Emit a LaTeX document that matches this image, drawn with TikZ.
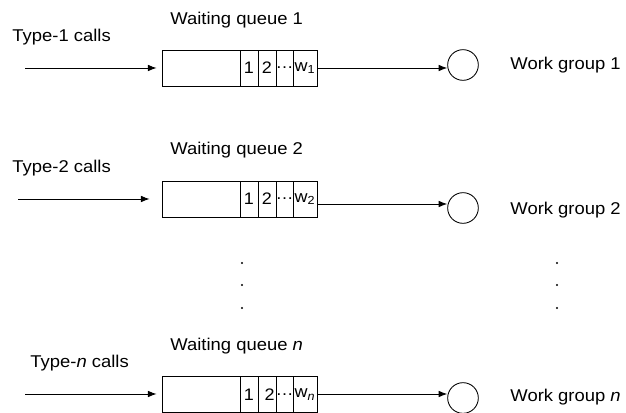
\documentclass[tikz,border=0pt]{standalone}
\usepackage{fontspec}
\setmainfont{Liberation Sans}[FakeStretch=1.08]
\usetikzlibrary{arrows.meta}
\newcommand{\celldots}{\makebox[0pt]{\ldots}}
\begin{document}
\begin{tikzpicture}[x=0.75pt,y=-0.75pt,line width=0.65pt,
  lbl/.style={anchor=west,inner sep=0pt,font=\fontsize{12.8}{15}\selectfont},
  queue/.style={draw,minimum width=116.25pt,minimum height=27pt,inner sep=0pt},
  cell/.style={draw,minimum height=27pt,inner sep=0pt,font=\fontsize{12.5}{14}\selectfont},
  srv/.style={draw,circle,minimum size=23pt,inner sep=0pt},
  arr/.style={-{Latex[length=6.5pt,width=5pt]}},
  dot/.style={fill=black,circle,inner sep=0pt,minimum size=1.6pt}
]
\useasboundingbox (0,0) rectangle (626,413);
% ---------- row 1
\node[lbl] (t1) at (12,37) {Type-1 calls};
\node[lbl] (wq1) at (170,20) {Waiting queue 1};
\node[lbl] (wg1) at (510,65) {Work group 1};
\node[queue] (q1) at (239.5,68) {};
\node[cell,minimum width=13.5pt] (a1) at (249,68) {1};
\node[cell,minimum width=13.5pt] (b1) at (267,68) {2};
\node[cell,minimum width=12.75pt] (d1) at (284.5,68) {\celldots};
\node[cell,minimum width=18pt] (w1) at (305,68) {w\textsubscript{1}};
\node[srv] (c1) at (463,65) {};
\coordinate (s1) at (25,68);
\coordinate (o1) at (317,68);
\draw[arr] (s1) -- ([xshift=-3.75pt]s1 -| q1.west);
\draw[arr] (o1) -- (o1 -| c1.west);
% ---------- row 2
\node[lbl] (t2) at (12,168) {Type-2 calls};
\node[lbl] (wq2) at (170,150) {Waiting queue 2};
\node[lbl] (wg2) at (510,210) {Work group 2};
\node[queue] (q2) at (239.5,199) {};
\node[cell,minimum width=13.5pt] (a2) at (249,199) {1};
\node[cell,minimum width=13.5pt] (b2) at (267,199) {2};
\node[cell,minimum width=12.75pt] (d2) at (284.5,199) {\celldots};
\node[cell,minimum width=18pt] (w2) at (305,199) {w\textsubscript{2}};
\node[srv] (c2) at (463,208) {};
\coordinate (s2) at (18,199);
\coordinate (o2) at (317,204);
\draw[arr] (s2) -- ([xshift=-9pt]s2 -| q2.west);
\draw[arr] (o2) -- (o2 -| c2.west);
% ---------- dots
\node[dot] (l1) at (242,263) {};
\node[dot] (l2) at (242,285) {};
\node[dot] (l3) at (242,308) {};
\node[dot] (r1) at (557,263) {};
\node[dot] (r2) at (557,285) {};
\node[dot] (r3) at (557,308) {};
% ---------- row n
\node[lbl] (tn) at (30,363) {Type-\textit{n} calls};
\node[lbl] (wqn) at (170,346) {Waiting queue \textit{n}};
\node[lbl] (wgn) at (510,397) {Work group \textit{n}};
\node[queue] (qn) at (239.5,394.5) {};
\node[cell,minimum width=13.5pt] (an) at (249,394.5) {1};
\node[cell,minimum width=13.5pt] (bn) at (267,394.5) {\hspace{4pt}2};
\node[cell,minimum width=12.75pt] (dn) at (284.5,394.5) {\celldots};
\node[cell,minimum width=18pt] (wn) at (305,394.5) {w\textsubscript{\itshape n}};
\node[srv] (cn) at (463,398) {};
\coordinate (sn) at (25,394);
\coordinate (on) at (317,394);
\draw[arr] (sn) -- ([xshift=-3.75pt]sn -| qn.west);
\draw[arr] (on) -- (on -| cn.west);
\end{tikzpicture}
\end{document}
